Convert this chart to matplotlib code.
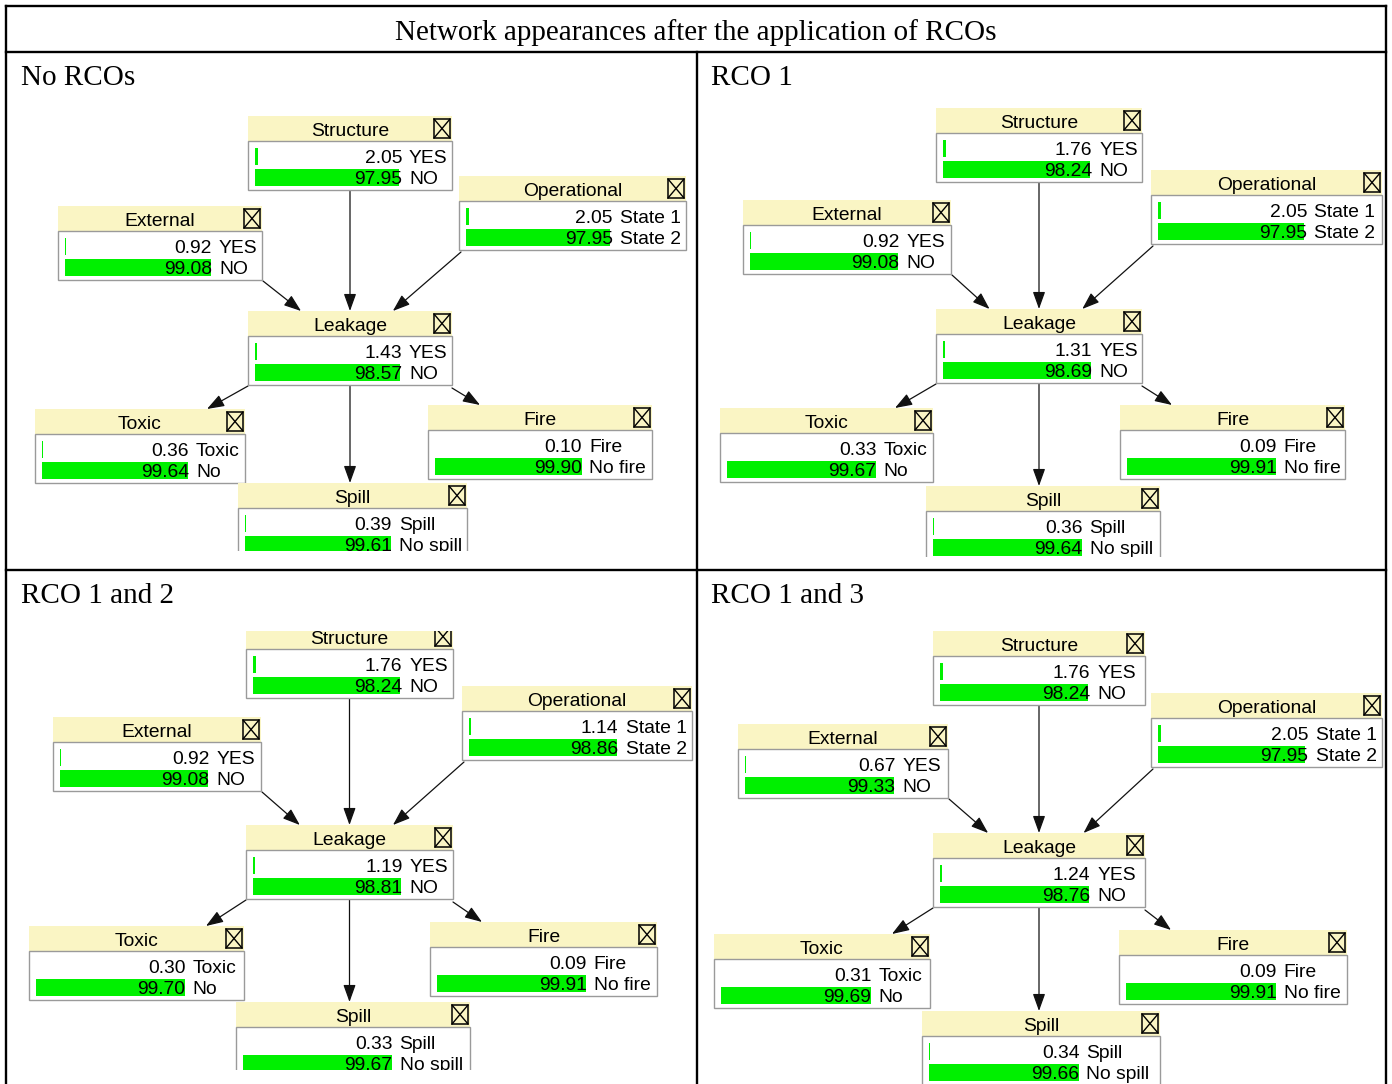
import matplotlib
matplotlib.use("Agg")
import matplotlib.pyplot as plt
from matplotlib.patches import Rectangle, FancyArrowPatch

W, H, DPI = 1392, 1084, 100

# ---------------- data ----------------
title = "Network appearances after the application of RCOs"
panel_titles = ["No RCOs", "RCO 1", "RCO 1 and 2", "RCO 1 and 3"]
node_names = ["Structure", "Operational", "External", "Leakage", "Toxic", "Fire", "Spill"]
state1_labels = ["YES", "State 1", "YES", "YES", "Toxic", "Fire", "Spill"]
state2_labels = ["NO", "State 2", "NO", "NO", "No", "No fire", "No spill"]

structure_yes = [2.05, 1.76, 1.76, 1.76]
structure_no = [97.95, 98.24, 98.24, 98.24]
operational_s1 = [2.05, 2.05, 1.14, 2.05]
operational_s2 = [97.95, 97.95, 98.86, 97.95]
external_yes = [0.92, 0.92, 0.92, 0.67]
external_no = [99.08, 99.08, 99.08, 99.33]
leakage_yes = [1.43, 1.31, 1.19, 1.24]
leakage_no = [98.57, 98.69, 98.81, 98.76]
toxic_yes = [0.36, 0.33, 0.30, 0.31]
toxic_no = [99.64, 99.67, 99.70, 99.69]
fire_yes = [0.10, 0.09, 0.09, 0.09]
fire_no = [99.90, 99.91, 99.91, 99.91]
spill_yes = [0.39, 0.36, 0.33, 0.34]
spill_no = [99.61, 99.64, 99.67, 99.66]

state1_values = [structure_yes, operational_s1, external_yes, leakage_yes,
                 toxic_yes, fire_yes, spill_yes]
state2_values = [structure_no, operational_s2, external_no, leakage_no,
                 toxic_no, fire_no, spill_no]

edges = [("Structure", "Leakage"), ("External", "Leakage"),
         ("Operational", "Leakage"), ("Leakage", "Toxic"),
         ("Leakage", "Fire"), ("Leakage", "Spill")]

# ---------------- layout (pixels) ----------------
# node -> (left, header_top, width)
layouts = [
    {"Structure": (248, 116, 204), "Operational": (459, 176, 227),
     "External": (58, 206, 204), "Leakage": (248, 311, 204),
     "Toxic": (35, 409, 210), "Fire": (428, 405, 224), "Spill": (238, 483, 229)},
    {"Structure": (936, 108, 206), "Operational": (1151, 170, 231),
     "External": (743, 200, 208), "Leakage": (936, 309, 206),
     "Toxic": (720, 408, 213), "Fire": (1120, 405, 225), "Spill": (926, 486, 234)},
    {"Structure": (246, 624, 207), "Operational": (462, 686, 230),
     "External": (53, 717, 208), "Leakage": (246, 825, 207),
     "Toxic": (29, 926, 215), "Fire": (430, 922, 227), "Spill": (236, 1002, 234)},
    {"Structure": (933, 631, 212), "Operational": (1151, 693, 231),
     "External": (738, 724, 210), "Leakage": (933, 833, 212),
     "Toxic": (714, 934, 216), "Fire": (1119, 930, 228), "Spill": (922, 1011, 238)},
]
bar_full = [147, 149.5, 149.5, 150.5]
clip_regions = [(8, 92, 695, 551), (699, 92, 1384, 557),
                (8, 631, 695, 1070), (699, 612, 1384, 1084)]
title_pos = [(21, 78), (711, 78), (21, 596)]
title_pos.append((711, 596))

HDR_H, BODY_H = 25, 49
HDR_COLOR = "#FAF5C4"
GREEN = "#00F000"
SANS = ["Liberation Sans", "DejaVu Sans"]
SERIF = ["Liberation Serif", "DejaVu Serif"]
NODE_FS = 13.9

fig = plt.figure(figsize=(W / DPI, H / DPI), dpi=DPI)
fig.patch.set_facecolor("white")
main = fig.add_axes([0, 0, 1, 1])
main.set_xlim(0, W)
main.set_ylim(H, 0)
main.axis("off")

# table lines
lw_tab = 1.7
main.plot([6, 1386], [6, 6], color="black", lw=lw_tab, solid_capstyle="projecting")
main.plot([6, 1386], [52, 52], color="black", lw=lw_tab)
main.plot([6, 1386], [570, 570], color="black", lw=lw_tab)
main.plot([6, 6], [6, H], color="black", lw=lw_tab)
main.plot([1386, 1386], [6, H], color="black", lw=lw_tab)
main.plot([697, 697], [52, H], color="black", lw=lw_tab)

# title, fitted to target width
t = main.text(696, 33, title, ha="center", va="center", family=SERIF, fontsize=18)
fig.canvas.draw()
r = fig.canvas.get_renderer()
wpx = t.get_window_extent(r).width
title_fs = 18 * 601.0 / wpx
t.set_fontsize(title_fs)
for (px, py), pt in zip(title_pos, panel_titles):
    main.text(px, py, pt, ha="left", va="center", family=SERIF, fontsize=title_fs)


def geom(lay, name):
    left, top, w = lay[name]
    return left, top, w, left + w, top + HDR_H + BODY_H


for p in range(4):
    x0, y0, x1, y1 = clip_regions[p]
    ax = fig.add_axes([x0 / W, 1 - y1 / H, (x1 - x0) / W, (y1 - y0) / H])
    ax.set_xlim(x0, x1)
    ax.set_ylim(y1, y0)
    ax.axis("off")
    lay = layouts[p]
    full = bar_full[p]

    # edges
    for src, dst in edges:
        sl, st, sw, sr, sb = geom(lay, src)
        dl, dt, dw, dr, db = geom(lay, dst)
        if src == "Structure":
            a, b = (sl + sw / 2, sb + 1), (dl + dw / 2, dt)
        elif src == "External":
            a, b = (sr + 1, sb + 1), (dl + 0.26 * dw, dt)
        elif src == "Operational":
            a, b = (sl + 2, sb + 2), (dl + 0.71 * dw, dt)
        elif dst == "Toxic":
            a, b = (sl, sb + 1), (dr - 38, dt)
        elif dst == "Fire":
            a, b = (sr, sb + 3), (dl + 52, dt)
        else:
            a, b = (sl + sw / 2, sb + 1), (sl + sw / 2, dt)
        arr = FancyArrowPatch(a, b, arrowstyle="-|>,head_length=1.0,head_width=0.36",
                              mutation_scale=10.5, color="#111111", lw=0.9,
                              shrinkA=0, shrinkB=0, zorder=1)
        ax.add_patch(arr)

    # nodes
    for i, name in enumerate(node_names):
        left, top, w, right, bottom = geom(lay, name)
        ax.add_patch(Rectangle((left, top), w, HDR_H, facecolor=HDR_COLOR,
                               edgecolor="none", zorder=2))
        ax.add_patch(Rectangle((left, top + HDR_H), w, BODY_H, facecolor="white",
                               edgecolor="#9a9a9a", lw=1.0, zorder=2))
        ax.text(left + w / 2, top + 15.5, name, ha="center", va="center",
                family=SANS, fontsize=NODE_FS, zorder=4, clip_on=True)
        # close box
        bx, by = right - 18, top + 3
        ax.add_patch(Rectangle((bx, by), 16, 19, facecolor="none",
                               edgecolor="black", lw=1.1, zorder=4))
        ax.plot([bx, bx + 16], [by, by + 19], color="black", lw=1.0, zorder=4)
        ax.plot([bx, bx + 16], [by + 19, by], color="black", lw=1.0, zorder=4)

        body_top = top + HDR_H
        rows = [body_top + 15, body_top + 36]
        vals = [state1_values[i][p], state2_values[i][p]]
        labs = [state1_labels[i], state2_labels[i]]
        bar_left = left + 7
        ax.barh(rows, [v * full / 100.0 for v in vals], left=bar_left,
                height=17, color=GREEN, linewidth=0, zorder=3)
        num_right = bar_left + full
        for ry, v, lab in zip(rows, vals, labs):
            ax.text(num_right, ry + 2.5, f"{v:.2f}", ha="right", va="center",
                    family=SANS, fontsize=NODE_FS, zorder=4, clip_on=True)
            ax.text(num_right + 7, ry + 2.5, lab, ha="left", va="center",
                    family=SANS, fontsize=NODE_FS, zorder=4, clip_on=True)

fig.savefig("out.png", dpi=DPI, facecolor="white")
